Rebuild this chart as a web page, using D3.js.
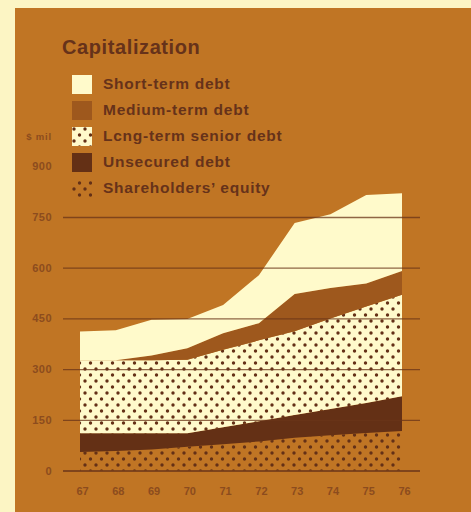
<!DOCTYPE html>
<html>
<head>
<meta charset="utf-8">
<script src="https://cdn.jsdelivr.net/npm/d3@7"></script>
<style>
  html, body { margin: 0; padding: 0; background: #fcf5c4; }
  svg { display: block; }
  text { font-family: "Liberation Sans", Arial, Helvetica, sans-serif; font-weight: bold; }
</style>
</head>
<body>
<svg id="chart" width="471" height="512"></svg>
<script>
// Capitalization, $ millions, fiscal years 1967-1976
const years = [67, 68, 69, 70, 71, 72, 73, 74, 75, 76];
const shareholdersEquity = [55, 58, 62, 70, 78, 86, 97, 104, 111, 117];
const unsecuredDebt      = [55, 52, 48, 40, 50, 60, 67, 78, 89, 103];
const longTermSenior     = [216, 216, 216, 218, 229, 239, 248, 268, 285, 300];
const mediumTermDebt     = [0, 0, 14, 34, 49, 51, 110, 90, 68, 70];
const shortTermDebt      = [85, 89, 106, 86, 84, 142, 210, 218, 262, 230];

const yTicks = [0, 150, 300, 450, 600, 750, 900];
const seriesKeys = ["equity", "unsecured", "longterm", "medium", "short"];
const legendLabels = ["Short-term debt", "Medium-term debt", "Lcng-term senior debt", "Unsecured debt", "Shareholders’ equity"];
const legendKeys = ["short", "medium", "longterm", "unsecured", "equity"];

const C = {
  outer: "#fcf5c4",
  panel: "#c07524",
  pale: "#fffacb",
  medium: "#9e581d",
  dark: "#643015",
  dot: "#643016",
  ink: "#66321a",
  axisInk: "#8c4c1e",
  grid: "#6a3418"
};

const svg = d3.select("#chart");
const defs = svg.append("defs");

function dotPattern(id, bg) {
  const p = defs.append("pattern")
    .attr("id", id)
    .attr("patternUnits", "userSpaceOnUse")
    .attr("width", 11).attr("height", 12);
  if (bg) p.append("rect").attr("width", 11).attr("height", 12).attr("fill", bg);
  p.append("circle").attr("cx", 2.5).attr("cy", 3).attr("r", 1.7).attr("fill", C.dot);
  p.append("circle").attr("cx", 8).attr("cy", 9).attr("r", 1.7).attr("fill", C.dot);
}
dotPattern("dotsPale", C.pale);
dotPattern("dotsPanel", C.panel);

const fills = {
  equity: "url(#dotsPanel)",
  unsecured: C.dark,
  longterm: "url(#dotsPale)",
  medium: C.medium,
  short: C.pale
};

// panel
svg.append("rect").attr("x", 15).attr("y", 8).attr("width", 456).attr("height", 504).attr("fill", C.panel);

// title
svg.append("text").attr("x", 62).attr("y", 54)
  .attr("font-size", 20).attr("letter-spacing", 0.6).attr("fill", C.ink)
  .text("Capitalization");

// legend
const leg = svg.append("g");
legendKeys.forEach((k, i) => {
  const yTop = 75 + i * 26;
  leg.append("rect").attr("x", 72).attr("y", yTop).attr("width", 20).attr("height", 19)
    .attr("fill", fills[k]);
  leg.append("text").attr("x", 103).attr("y", yTop + 14)
    .attr("font-size", 15.5).attr("letter-spacing", 0.75).attr("fill", C.ink)
    .text(legendLabels[i]);
});

// scales
const x = d3.scaleLinear().domain([67, 76]).range([80, 402]);
const y = d3.scaleLinear().domain([0, 750]).range([470.5, 217]);

// stacked data
const rows = years.map((yr, i) => ({
  year: yr,
  equity: shareholdersEquity[i],
  unsecured: unsecuredDebt[i],
  longterm: longTermSenior[i],
  medium: mediumTermDebt[i],
  short: shortTermDebt[i]
}));
const stack = d3.stack().keys(seriesKeys)(rows);
const area = d3.area()
  .x(d => x(d.data.year))
  .y0(d => y(d[0]))
  .y1(d => y(d[1]));

svg.append("g").selectAll("path").data(stack).join("path")
  .attr("d", area)
  .attr("fill", d => fills[d.key]);

// y axis with gridlines
const gx0 = 63, gx1 = 420;
const yAxis = svg.append("g").attr("transform", `translate(${gx0},0)`)
  .call(d3.axisLeft(y).tickValues(yTicks).tickSize(-(gx1 - gx0)).tickPadding(11));
yAxis.select(".domain").remove();
yAxis.selectAll(".tick line")
  .attr("stroke", C.grid).attr("stroke-width", 1.3)
  .attr("opacity", d => d === 0 ? 1 : 0.75)
  .attr("display", d => d === 900 ? "none" : null);
yAxis.selectAll(".tick text")
  .attr("font-family", "Liberation Sans, Arial, sans-serif")
  .attr("font-weight", "bold")
  .attr("font-size", 11).attr("letter-spacing", 0.5).attr("fill", C.axisInk);

svg.append("text").attr("x", 52).attr("y", 140).attr("text-anchor", "end")
  .attr("font-size", 9.5).attr("letter-spacing", 0.8).attr("fill", C.axisInk)
  .text("$ mil");

// x axis labels
const xAxis = svg.append("g").attr("transform", `translate(2,${y(0)})`)
  .call(d3.axisBottom(x).tickValues(years).tickFormat(d => d).tickSize(0).tickPadding(17));
xAxis.select(".domain").remove();
xAxis.selectAll(".tick text")
  .attr("font-family", "Liberation Sans, Arial, sans-serif")
  .attr("font-weight", "bold")
  .attr("font-size", 11).attr("fill", C.axisInk);
</script>
</body>
</html>
